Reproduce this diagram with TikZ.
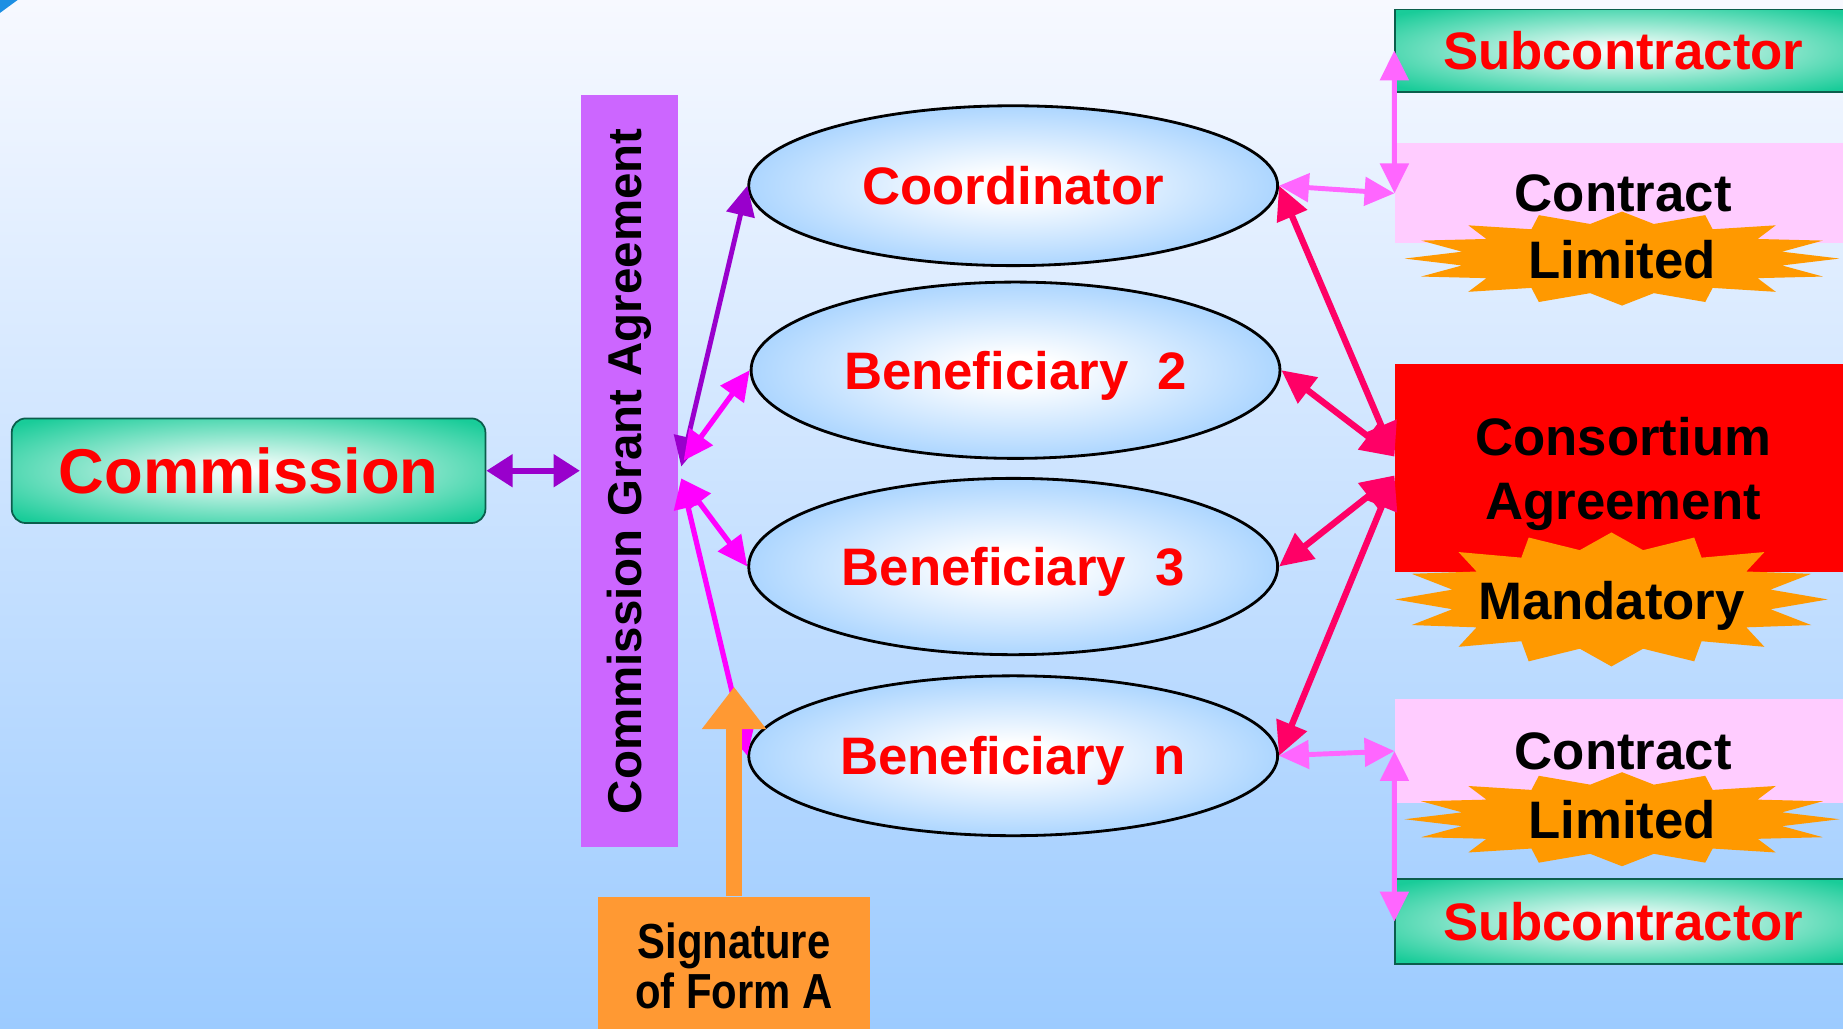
\documentclass[tikz,border=0pt]{standalone}
\usepackage{fontspec}
\setmainfont{Liberation Sans}
\newfontfamily\narrowfont[FakeStretch=0.85]{Liberation Sans}
\usetikzlibrary{arrows.meta,calc,shapes.geometric}

\definecolor{bgtop}{HTML}{F7F9FF}
\definecolor{bgbot}{HTML}{9CCBFF}
\definecolor{cornerblue}{HTML}{1C8FE3}
\definecolor{partyblue}{HTML}{99CCFF}
\definecolor{subgreen}{HTML}{19CC99}
\definecolor{subedge}{HTML}{0B5E4C}
\colorlet{greenpale}{white!85!subgreen}
\definecolor{gaviolet}{HTML}{CC66FF}
\definecolor{contractpink}{HTML}{FFCCFF}
\definecolor{starorange}{HTML}{FF9900}
\definecolor{signorange}{HTML}{FF9933}
\definecolor{linkviolet}{HTML}{9900CC}
\definecolor{linkmagenta}{HTML}{FF00FF}
\definecolor{linklight}{HTML}{FF66FF}
\definecolor{linkdeep}{HTML}{FF0066}

\pgfdeclareradialshading{partyshade}{\pgfpoint{0bp}{0bp}}{color(0bp)=(white); color(4bp)=(white); color(30bp)=(partyblue); color(50bp)=(partyblue)}
\pgfdeclareradialshading{greenshade}{\pgfpoint{0bp}{0bp}}{color(0bp)=(white); color(6bp)=(greenpale); color(33bp)=(subgreen); color(50bp)=(subgreen)}

\newlength\pix
\setlength\pix{0.011754cm}

% orange burst: centre x, centre y, half width, half height
\newcommand{\burst}[4]{%
	\fill[starorange] plot[domain=0:360, samples=33]
		({#1+#3*cos(\x)*((mod(round(\x/11.25),2)==0) ? 1 : 0.75)},
		 {#2+#4*sin(\x)*((mod(round(\x/11.25),2)==0) ? 1 : 0.75)}) -- cycle;}

\tikzset{%
	agency/.style     = {draw=subedge, line width=0.5pt, rounded corners=4pt, shade, shading=greenshade, minimum width=403\pix, minimum height=89\pix, text=red, font=\bfseries\fontsize{18}{22}\selectfont},
	gabar/.style      = {fill=gaviolet, minimum width=83\pix, minimum height=640\pix, inner sep=0pt, font=\bfseries\fontsize{13.5}{16}\selectfont},
	party/.style      = {draw, line width=0.8pt, ellipse, shade, shading=partyshade, minimum width=450\pix, inner sep=0pt, text depth=0pt, text=red, font=\bfseries\fontsize{15}{18}\selectfont},
	subbox/.style     = {draw=subedge, line width=0.5pt, shade, shading=greenshade, minimum width=388\pix, text=red, font=\bfseries\fontsize{15}{18}\selectfont},
	contract/.style   = {fill=contractpink, minimum width=388\pix, font=\bfseries\fontsize{15}{18}\selectfont},
	consbox/.style    = {fill=red, minimum width=388\pix, minimum height=177\pix, align=center, text depth=0pt, font=\bfseries\fontsize{15}{18.3}\selectfont},
	signbox/.style    = {fill=signorange, minimum width=231\pix, minimum height=117\pix, align=center, font=\narrowfont\bfseries\fontsize{14}{14.3}\selectfont},
	burstlabel/.style = {text depth=0pt, font=\bfseries\fontsize{15}{18}\selectfont},
	comlink/.style    = {draw=linkviolet, line width=1.8pt, >={Triangle[length=7.5pt,width=9pt]}, <->},
	violetlink/.style = {draw=linkviolet, line width=1.4pt, >={Triangle[length=8.5pt,width=8pt]}, <->},
	magentalink/.style= {draw=linkmagenta, line width=1.5pt, >={Triangle[length=8.5pt,width=8pt]}, <->},
	lightlink/.style  = {draw=linklight, line width=1.4pt, >={Triangle[length=8.5pt,width=8pt]}, <->},
	deeplink/.style   = {draw=linkdeep, line width=1.8pt, >={Triangle[length=9.5pt,width=9pt]}, <->},
	signarrow/.style  = {draw=signorange, line width=4.7pt, -{Triangle[length=12pt,width=17.5pt]}},
}

\begin{document}
\begin{tikzpicture}[x=0.011754cm,y=0.011754cm]
	\useasboundingbox (0,0) rectangle (1568,875);
	\shade[top color=bgtop,bottom color=bgbot] (0,0) rectangle (1568,875);
	\fill[cornerblue] (0,875) -- (15,875) -- (0,864) -- cycle;

	\node[agency] (com) at (211.5,474.5) {Commission};
	\node[gabar] (ga) at (535.5,474) {\rotatebox{90}{Commission Grant Agreement}};

	\node[party, minimum height=136\pix] (coord) at (862,717) {Coordinator};
	\node[party, minimum height=150\pix] (ben2) at (864,560) {Beneficiary~~2};
	\node[party, minimum height=150\pix] (ben3) at (862,393) {Beneficiary~~3};
	\node[party, minimum height=136\pix] (benn) at (862,232) {Beneficiary~~n};

	\node[subbox, minimum height=70\pix] (sub1) at (1381,832) {Subcontractor};
	\node[contract, minimum height=85\pix] (ct1) at (1381,710.5) {Contract};
	\node[consbox] (cons) at (1381,476.5) {Consortium\\Agreement};
	\node[contract, minimum height=88\pix] (ct2) at (1381,236) {Contract};
	\node[subbox, minimum height=72\pix] (sub2) at (1381,91) {Subcontractor};
	\node[signbox] (sig) at (624.5,53.5) {Signature\\of Form A};

	\burst{1380}{655}{185}{40}
	\node[burstlabel] (lim1) at (1380,654) {Limited};
	\burst{1371}{365}{184}{57}
	\node[burstlabel] (mand) at (1371,364) {Mandatory};
	\burst{1380}{178}{185}{40}
	\node[burstlabel] (lim2) at (1380,178) {Limited};

	% grant agreement side
	\draw[comlink] (com.east) -- (com.east -| ga.west);
	\coordinate (g1) at ($(ga.east)+(2,4)$);
	\coordinate (g2) at ($(ga.east)+(4,9)$);
	\coordinate (g3) at ($(ga.east)+(2,-6)$);
	\draw[violetlink] (g1) -- (coord.west);
	\draw[magentalink] (g2) -- (ben2.west);
	\draw[magentalink] (g3) -- (ben3.west);
	\draw[magentalink] (g3) -- (benn.west);

	% consortium side
	\coordinate (ca1) at ($(cons.west)+(0,10)$);
	\coordinate (ca2) at ($(cons.west)+(0,-6)$);
	\draw[deeplink] (coord.east) -- (ca1);
	\draw[deeplink] (ben2.east) -- (ca1);
	\draw[deeplink] (ben3.east) -- (ca2);
	\draw[deeplink] (benn.east) -- (ca2);
	\draw[lightlink] (coord.east) -- (ct1.west);
	\draw[lightlink] (ct1.west) -- (sub1.west);
	\draw[lightlink] (benn.east) -- (ct2.west);
	\draw[lightlink] (ct2.west) -- (sub2.west);

	\coordinate (sigtip) at ($(sig.north)+(0,178)$);
	\draw[signarrow] (sig.north) -- (sigtip);
\end{tikzpicture}
\end{document}
